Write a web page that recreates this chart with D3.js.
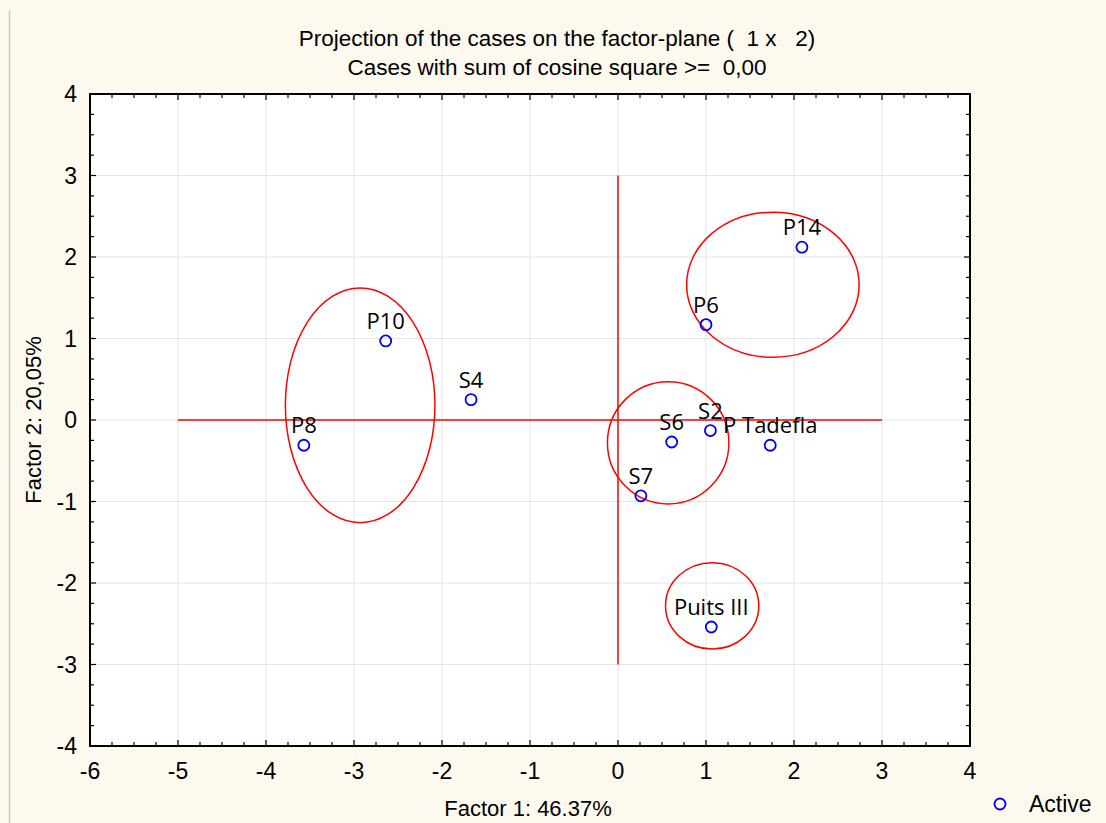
<!DOCTYPE html>
<html>
<head>
<meta charset="utf-8">
<script src="https://cdn.jsdelivr.net/npm/d3@7"></script>
<style>
  body { margin: 0; background: #fdf9ef; }
  text { fill: #000; }
</style>
</head>
<body>
<script>
// cases on the factor plane
let caseNames = ["P14", "P6", "P10", "S4", "P8", "S6", "S2", "P Tadefla", "S7", "Puits III"];
let factor1 = [2.09, 1.00, -2.64, -1.67, -3.57, 0.61, 1.05, 1.73, 0.26, 1.06];
let factor2 = [2.12, 1.17, 0.97, 0.25, -0.31, -0.27, -0.13, -0.31, -0.93, -2.54];

// group ellipses: center x, center y, radius x, radius y (data units)
let ellCx = [-2.93, 1.76, 0.57, 1.07];
let ellCy = [0.18, 1.66, -0.28, -2.28];
let ellRx = [0.85, 0.98, 0.69, 0.53];
let ellRy = [1.44, 0.89, 0.75, 0.53];

let xTicks = [-6, -5, -4, -3, -2, -1, 0, 1, 2, 3, 4];
let yTicks = [-4, -3, -2, -1, 0, 1, 2, 3, 4];

let W = 1106, H = 823;
let svg = d3.select("body").append("svg")
    .attr("width", W)
    .attr("height", H);

svg.append("rect").attr("width", W).attr("height", H).attr("fill", "#fdf9ef");
svg.append("line").attr("x1", 9.5).attr("x2", 9.5).attr("y1", 10).attr("y2", H)
    .attr("stroke", "#c8c8c8").attr("stroke-width", 1.5);

let pLeft = 90, pRight = 970, pTop = 94, pBottom = 746;
let x = d3.scaleLinear().domain([-6, 4]).range([pLeft, pRight]);
let y = d3.scaleLinear().domain([-4, 4]).range([pBottom, pTop]);

svg.append("rect").attr("x", pLeft).attr("y", pTop)
    .attr("width", pRight - pLeft).attr("height", pBottom - pTop).attr("fill", "#fff");

// grid
svg.append("g").selectAll("line").data(xTicks.slice(1, -1)).enter().append("line")
    .attr("x1", d => x(d)).attr("x2", d => x(d)).attr("y1", pTop).attr("y2", pBottom)
    .attr("stroke", "#e4e4e4").attr("stroke-width", 1);
svg.append("g").selectAll("line").data(yTicks.slice(1, -1)).enter().append("line")
    .attr("y1", d => y(d)).attr("y2", d => y(d)).attr("x1", pLeft).attr("x2", pRight)
    .attr("stroke", "#e4e4e4").attr("stroke-width", 1);

// axes with inward ticks, minor every 0.25
let xMinor = d3.range(-6, 4.001, 0.25);
let yMinor = d3.range(-4, 4.001, 0.25);
function isMajor(v) { return Math.abs(v - Math.round(v)) < 1e-6; }

let tickG = svg.append("g").attr("stroke", "#000").attr("stroke-width", 1.2);
xMinor.forEach(function (v) {
    let len = isMajor(v) ? 6 : 4;
    tickG.append("line").attr("x1", x(v)).attr("x2", x(v)).attr("y1", pBottom).attr("y2", pBottom - len);
    tickG.append("line").attr("x1", x(v)).attr("x2", x(v)).attr("y1", pTop).attr("y2", pTop + len);
});
yMinor.forEach(function (v) {
    let len = isMajor(v) ? 6 : 4;
    tickG.append("line").attr("y1", y(v)).attr("y2", y(v)).attr("x1", pLeft).attr("x2", pLeft + len);
    tickG.append("line").attr("y1", y(v)).attr("y2", y(v)).attr("x1", pRight).attr("x2", pRight - len);
});

svg.append("rect").attr("x", pLeft).attr("y", pTop)
    .attr("width", pRight - pLeft).attr("height", pBottom - pTop)
    .attr("fill", "none").attr("stroke", "#000").attr("stroke-width", 2);

// tick labels
let axisFont = "Liberation Sans, Arial, sans-serif";
svg.append("g").selectAll("text").data(xTicks).enter().append("text")
    .attr("x", d => x(d)).attr("y", 779)
    .attr("text-anchor", "middle")
    .style("font-family", axisFont).style("font-size", "23px")
    .text(d => d);
svg.append("g").selectAll("text").data(yTicks).enter().append("text")
    .attr("x", 77).attr("y", d => y(d) + 8)
    .attr("text-anchor", "end")
    .style("font-family", axisFont).style("font-size", "23px")
    .text(d => d);

// titles
svg.append("text").attr("x", 557).attr("y", 46).attr("text-anchor", "middle")
    .style("font-family", axisFont).style("font-size", "22.5px").style("white-space", "pre")
    .text("Projection of the cases on the factor-plane (  1 x   2)");
svg.append("text").attr("x", 557).attr("y", 75).attr("text-anchor", "middle")
    .style("font-family", axisFont).style("font-size", "22.5px").style("white-space", "pre")
    .text("Cases with sum of cosine square >=  0,00");
svg.append("text").attr("x", 528).attr("y", 816).attr("text-anchor", "middle")
    .style("font-family", axisFont).style("font-size", "22px")
    .text("Factor 1: 46.37%");
svg.append("text").attr("transform", "translate(41,420) rotate(-90)").attr("text-anchor", "middle")
    .style("font-family", axisFont).style("font-size", "22px")
    .text("Factor 2: 20,05%");

// red axes through origin
svg.append("line").attr("x1", x(-5)).attr("x2", x(3)).attr("y1", y(0)).attr("y2", y(0))
    .attr("stroke", "#ff0000").attr("stroke-width", 1.5);
svg.append("line").attr("x1", x(0)).attr("x2", x(0)).attr("y1", y(3)).attr("y2", y(-3))
    .attr("stroke", "#ff0000").attr("stroke-width", 1.5);

// ellipses
svg.append("g").selectAll("ellipse").data(ellCx).enter().append("ellipse")
    .attr("cx", d => x(d))
    .attr("cy", (d, i) => y(ellCy[i]))
    .attr("rx", (d, i) => x(ellRx[i]) - x(0))
    .attr("ry", (d, i) => y(0) - y(ellRy[i]))
    .attr("fill", "none").attr("stroke", "#ff0000").attr("stroke-width", 1.5);

// points
svg.append("g").selectAll("circle").data(caseNames).enter().append("circle")
    .attr("cx", (d, i) => x(factor1[i]))
    .attr("cy", (d, i) => y(factor2[i]))
    .attr("r", 5.5)
    .attr("fill", "none").attr("stroke", "#0000ff").attr("stroke-width", 1.8);

svg.append("g").selectAll("text").data(caseNames).enter().append("text")
    .attr("x", (d, i) => x(factor1[i]))
    .attr("y", (d, i) => y(factor2[i]) - 12)
    .attr("text-anchor", "middle")
    .style("font-family", "Open Sans, Noto Sans, sans-serif").style("font-size", "22px")
    .text(d => d);

// legend
svg.append("circle").attr("cx", 1000).attr("cy", 804).attr("r", 5.5)
    .attr("fill", "none").attr("stroke", "#0000ff").attr("stroke-width", 1.8);
svg.append("text").attr("x", 1029).attr("y", 812)
    .style("font-family", axisFont).style("font-size", "23px")
    .text("Active");
</script>
</body>
</html>
